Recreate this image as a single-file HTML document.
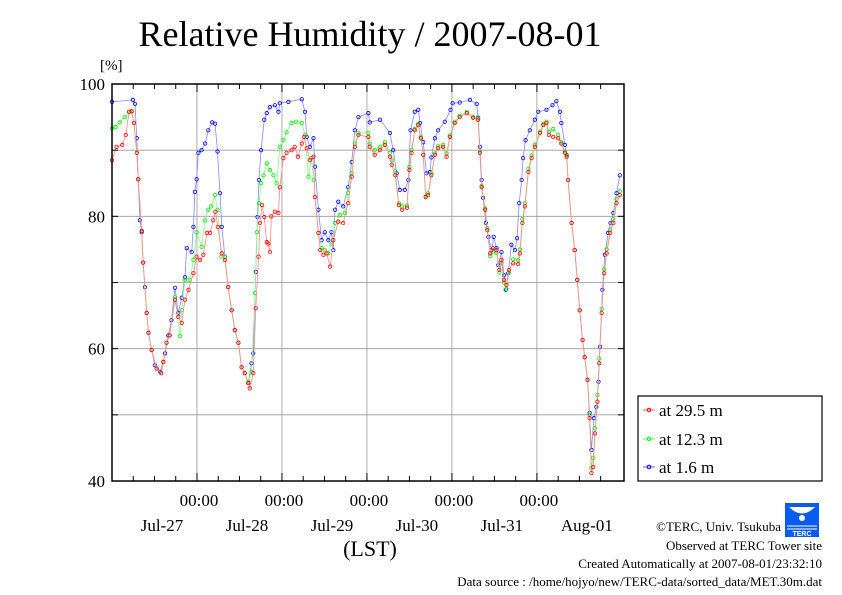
<!DOCTYPE html>
<html><head><meta charset="utf-8"><style>
html,body{margin:0;padding:0;background:#fff;}
svg{display:block;font-family:"Liberation Serif",serif;}
</style></head><body>
<svg id="chart" width="842" height="595" viewBox="0 0 842 595">
<text x="370" y="46" font-size="36" text-anchor="middle">Relative Humidity / 2007-08-01</text>
<text x="100" y="70" font-size="15">[%]</text>
<g id="grid"></g>
<g id="series"></g>
<rect x="112" y="84" width="512" height="397" fill="none" stroke="#000" stroke-width="1.5"/>
<g id="axes"></g>
<text x="370" y="556" font-size="22" text-anchor="middle">(LST)</text>
<g>
<rect x="638" y="396" width="184" height="85" fill="#fff" stroke="#000" stroke-width="1.2"/>
<g><line x1="643" y1="410" x2="655" y2="410" stroke="#f66"/><circle cx="649" cy="410" r="1.8" fill="none" stroke="#f00"/><text x="659" y="416" font-size="17">at 29.5 m</text></g>
<g><line x1="643" y1="439" x2="655" y2="439" stroke="#6f6"/><circle cx="649" cy="439" r="1.8" fill="none" stroke="#0f0"/><text x="659" y="445" font-size="17">at 12.3 m</text></g>
<g><line x1="643" y1="467" x2="655" y2="467" stroke="#66f"/><circle cx="649" cy="467" r="1.8" fill="none" stroke="#00f"/><text x="659" y="473" font-size="17">at 1.6 m</text></g>
</g>
<g>
<rect x="785" y="503" width="34" height="34" fill="#0a5cf0"/>
<path d="M789 507 Q802 520 815 507" fill="#fff"/>
<circle cx="802" cy="518" r="3" fill="#fff"/>
<path d="M787 526 L817 526 M787 529 L817 529" stroke="#fff" stroke-width="1"/>
<text x="802" y="536" font-size="7" fill="#fff" text-anchor="middle" font-family="Liberation Sans, sans-serif" font-weight="bold">TERC</text>
</g>
<g font-size="13" text-anchor="end">
<text x="781" y="531">©TERC, Univ. Tsukuba</text>
<text x="822" y="550">Observed at TERC Tower site</text>
<text x="822" y="568">Created Automatically at 2007-08-01/23:32:10</text>
<text x="822" y="586">Data source : /home/hojyo/new/TERC-data/sorted_data/MET.30m.dat</text>
</g>
</svg>
<script>
const yTicks=[40,60,80,100];
const dayLabels=["Jul-27","Jul-28","Jul-29","Jul-30","Jul-31","Aug-01"];
const timeTickDays=[1,2,3,4,5];
const blueT=[0,5.9,6.5,7.0,7.4,7.9,8.4,8.8,9.3,9.8,10.3,11.2,12.1,13.6,14.5,15.0,15.9,16.8,17.8,18.7,19.7,20.6,21.1,22.5,23.0,23.4,23.9,24.4,25.3,26.3,27.2,28.3,29.1,29.8,30.5,31.0,31.9,32.8,33.8,34.7,35.7,36.6,37.5,38.5,39.4,39.9,40.6,41.1,41.5,42.1,43.0,43.7,44.6,46.0,47.0,47.4,49.8,53.6,54.5,55.0,55.9,56.9,57.3,58.3,59.2,60.1,61.1,62.0,62.5,63.0,63.9,65.3,66.7,67.7,68.6,69.6,72.4,72.8,75.7,78.5,79.4,80.4,81.3,82.7,83.7,84.3,85.5,86.5,87.0,87.9,88.8,89.8,90.2,91.2,92.1,94.0,95.6,96.2,98.2,101.1,103.0,103.4,103.9,104.4,104.8,105.6,106.3,107.2,107.8,108.6,109.1,110.0,110.7,111.2,111.9,112.8,113.8,114.4,115.0,115.7,116.1,116.8,118.0,119.4,120.4,122.7,124.4,125.5,126.5,126.9,127.9,128.4,128.8,129.8,130.7,131.4,132.1,132.9,133.5,134.3,134.9,135.4,136.1,136.8,137.4,137.8,138.5,139.2,140.1,140.8,141.6,142.5,143.4];
const blueV=[97.3,97.6,97,91.8,85.6,79.4,77.6,73,69.3,65.4,62.4,59.8,57.5,56.5,58,59.3,62,64.3,69.2,65.4,67.7,70.8,75.2,74.6,78.4,83.7,85.6,89.6,90,91,93,94.2,94,89.8,83.5,78.4,73.9,69.3,65.8,62.8,60.9,57.2,56.3,54.8,57.8,59.3,71.6,79.9,85.5,90,94.6,95.6,96.5,96.8,95.8,97.1,97.3,97.7,95.8,92,90.5,91.8,87.5,81,76.4,77.6,76.4,77.6,74.9,81,82.2,81.5,84.4,88.2,93,95,95.6,94.2,94.6,92.6,90,86.5,84,84,85.5,93,95.8,96.1,94.1,91.2,86.5,86.7,88.9,91.8,93,94.3,96.1,97.1,97.2,97.6,97,94.9,90.5,85.5,82.8,79,76.9,74.9,76.9,75.2,72.6,74.6,71.1,68.9,71.4,75.7,74.9,76.7,82,85.5,88.8,91.5,93,94.6,95.8,96.1,96.8,97.4,95.8,94.1,90.8,89.3,85.5,79,74.9,70.4,65.8,61.3,58.7,55.3,50.3,44.7,49.5,51.2,55,60.3,68.9,74.2,77.5,79,80.5,83.5,86.2];
const redT=[0,1.3,2.9,3.9,4.8,5.5,6.2,7.0,7.4,8.4,8.8,9.8,10.3,11.2,12.6,13.9,14.5,15.4,16.3,17.8,18.7,19.7,20.6,21.6,23.0,23.9,24.9,25.8,26.8,27.7,28.6,29.2,29.9,31.0,31.9,32.8,33.8,34.7,35.7,36.6,37.5,38.5,38.9,39.9,40.6,41.4,41.8,42.4,43.0,43.7,44.1,44.6,45.0,46.0,47.0,47.4,48.4,49.3,50.7,51.6,52.5,53.6,54.2,55.0,55.9,56.9,57.3,58.3,58.8,59.7,60.6,61.6,62.5,63.9,65.3,66.7,67.7,68.6,69.6,72.4,72.8,74.2,75.7,77.1,78.5,79.0,80.0,81.0,81.9,83.3,84.0,84.6,85.5,86.5,87.2,87.9,88.6,89.3,90.2,91.2,92.1,93.5,94.5,95.4,96.8,98.2,100.2,102.0,103.4,103.9,104.4,105.4,106.0,106.8,107.6,108.6,109.4,110.0,110.7,111.4,112.1,113.3,114.7,115.2,115.9,116.6,117.6,118.5,119.4,120.9,121.8,122.7,123.4,124.6,126.0,126.9,127.9,128.4,128.8,129.8,130.7,131.4,132.1,132.9,133.5,134.3,134.9,135.4,135.9,136.4,137.1,137.6,138.3,139.0,139.7,140.7,141.6,142.5,143.4];
const redV=[88.5,90.5,90.8,92.3,95.8,95.9,94.1,89.6,85.6,77.8,73,65.4,62.4,59.8,57,56.3,58,60.9,62,67.4,64.8,63.9,67.4,68.9,71.4,73.9,73.4,74.2,77.5,77.5,79.4,80.7,78.4,74.4,73.4,69.3,65.8,62.8,60.9,57.2,56.3,54.8,54,56.3,66.1,73.9,79,81.7,79.9,76.1,75.9,74.6,80,80.7,80.5,84.4,88.8,89.6,90,90.5,89,91,92,90.3,88.5,89,82.9,77.5,74.9,74.2,74.4,72.4,76.4,79.2,79,82,86,90.5,92.3,92,90.5,89.3,90,90.8,89,87.8,86.2,81.7,81,81.3,87,89.6,93,93.8,91.8,89.3,82.9,83.2,86.2,89.3,90.3,90.5,89,92,94.1,95,95.6,94.9,94.6,89.6,84.4,81,77.9,74.4,75.2,74.9,71.9,73.4,70.4,69.6,71.9,72.9,72.8,74.4,79,81.5,86.7,88.8,90.5,92.6,93.8,94.1,92.3,92,91.8,91,89.6,89,85.5,79,74.9,70.4,65.8,61.3,58.7,55.3,49.5,41.2,42.1,47.2,52,57.8,65.4,71.4,74.4,77.5,79,82,83.2];
const greenT=[0,1.0,2.2,3.6,4.8,5.6,6.2,7.0,7.4,8.4,8.8,9.8,10.3,11.2,12.6,13.9,14.5,15.4,16.3,17.8,19.2,19.7,20.6,22.0,23.0,23.9,25.3,26.3,27.2,28.0,29.1,29.8,30.9,31.9,32.8,33.8,34.7,35.7,36.6,37.5,38.5,39.4,40.4,40.9,41.5,42.1,42.8,43.7,44.6,45.6,46.5,47.4,48.4,49.3,50.7,52.0,53.6,54.5,55.5,56.3,57.0,58.3,59.2,60.1,61.1,62.0,63.0,64.4,65.8,66.7,67.7,68.6,69.6,72.4,72.8,74.2,75.7,77.1,78.5,79.0,80.0,81.0,81.9,83.3,84.0,84.6,85.5,86.5,87.2,87.9,88.6,89.3,90.2,91.2,92.1,93.5,94.5,95.4,96.8,98.2,100.2,102.0,103.4,103.9,104.4,105.4,106.0,106.8,107.6,108.6,109.4,110.0,110.7,111.4,112.1,113.3,114.7,115.2,115.9,116.6,117.6,118.5,119.4,120.9,121.8,122.7,123.4,124.6,126.0,126.9,127.9,128.4,128.8,129.8,130.7,131.4,132.1,132.9,133.5,134.3,134.9,135.4,135.9,136.4,137.1,137.6,138.3,139.0,139.7,140.7,141.6,142.5,143.4];
const greenV=[93.3,93.5,94.2,95,95.8,95.8,94.1,89.6,85.6,77.8,73,65.4,62.4,59.8,57,56.3,58,60.9,62,67.8,61.9,65.8,70.4,70.4,73.4,77.6,75.4,79.4,81,81.5,83.2,81,73.9,73.9,69.3,65.8,62.8,60.9,57.2,56.3,55,56.5,68.4,77.6,82,85,86.2,88,87,86.2,85,90.5,91.5,92.7,94.1,94.3,94.1,92.3,86,88.8,85.5,77.5,75.2,74.9,74.4,75.9,79,80.2,80.5,83.5,86.5,91,92.6,92.6,91,90,90.5,91.2,89.6,88.5,86.8,82,81.5,81.6,87.5,90,93.2,94,92,89.3,83,83.5,86.5,89.5,90.6,90.8,89.5,92.2,94.3,95.2,95.8,95,94.8,89.8,84.6,81.2,78.2,74,74.6,74.5,71.5,73,70,69,71.5,73.5,73.4,75,79.6,82,87.2,89.2,90.8,92.8,94,94.3,92.8,93.2,92.3,91.2,89.8,89.2,85.5,79,74.9,70.4,65.8,61.3,58.7,55.3,50,42,43.5,48,53,58.5,66,72,75,78,79.6,82.6,83.8];

const X0=112,X1=624,Y0=481,Y1=84,HMAX=144.6;
const xs=h=>X0+(X1-X0)*h/HMAX;
const ys=v=>Y0-(Y0-Y1)*(v-40)/60;
const NS="http://www.w3.org/2000/svg";
function mk(tag,attrs,parent){const e=document.createElementNS(NS,tag);for(const k in attrs)e.setAttribute(k,attrs[k]);parent.appendChild(e);return e;}
const grid=document.getElementById('grid'),axes=document.getElementById('axes'),ser=document.getElementById('series');
for(let v=50;v<100;v+=10){
  const l=mk('line',{x1:X0,x2:X1,y1:ys(v),y2:ys(v),stroke:'#999','stroke-width':0.8},grid);
  
  
}
timeTickDays.forEach(d=>{
  const l=mk('line',{x1:xs(d*24),x2:xs(d*24),y1:Y1,y2:Y0,stroke:'#999','stroke-width':0.8},grid);
  
  
});
for(let h=6;h<HMAX-1;h+=6){
  const len=h%24===0?8:5;
  mk('line',{x1:xs(h),x2:xs(h),y1:Y0,y2:Y0-len,stroke:'#000'},axes);
  mk('line',{x1:xs(h),x2:xs(h),y1:Y1,y2:Y1+len,stroke:'#000'},axes);
}
for(let v=40;v<=100;v+=10){
  mk('line',{x1:X0,x2:X0+6,y1:ys(v),y2:ys(v),stroke:'#000'},axes);
  mk('line',{x1:X1,x2:X1-6,y1:ys(v),y2:ys(v),stroke:'#000'},axes);
}
yTicks.forEach(v=>{
  const t=mk('text',{x:105,y:ys(v)+6,'font-size':17,'text-anchor':'end'},axes);
  t.textContent=v;
  
  
});
timeTickDays.forEach(d=>{
  const t=mk('text',{x:xs(d*24)+2,y:506,'font-size':17,'text-anchor':'middle'},axes);
  t.textContent='00:00';
  
  
});
dayLabels.forEach((lab,i)=>{
  const x=xs((i+1)*24);
  const d=mk('text',{x:x-35,y:531,'font-size':17,'text-anchor':'middle'},axes);
  d.textContent=lab;
  
  
});
function drawSeries(T,V,line,pt,name){
  const g=mk('g',{},ser);
  
  
  mk('polyline',{points:T.map((t,i)=>xs(t)+','+ys(V[i])).join(' '),fill:'none',stroke:line,'stroke-width':0.8},g);
  T.forEach((t,i)=>{
    const c=mk('circle',{cx:xs(t),cy:ys(V[i]),r:1.7,fill:'none',stroke:pt,'stroke-width':0.8},g);
    
    
  });
}
drawSeries(blueT,blueV,'#88f','#00f','series-1.6m');
drawSeries(greenT,greenV,'#8f8','#0e0','series-12.3m');
drawSeries(redT,redV,'#f88','#f00','series-29.5m');
</script>
</body></html>
